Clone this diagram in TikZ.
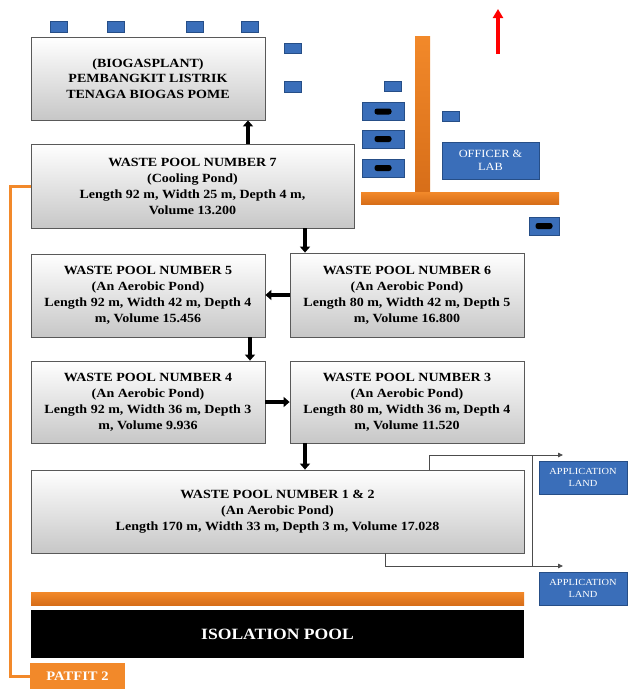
\documentclass[tikz,border=0pt]{standalone}
\usepackage{fontspec}
\setmainfont{Liberation Serif}[FakeStretch=1.12]
\usetikzlibrary{shadows,arrows.meta}
\definecolor{myblue}{RGB}{58,110,185}
\definecolor{myblued}{RGB}{38,78,135}
\definecolor{myorange}{RGB}{242,137,42}
\definecolor{myoranged}{RGB}{215,110,25}
\begin{document}
\begin{tikzpicture}[x=1pt,y=-1pt,
  pool/.style={draw=black!65, line width=0.8pt, top color=white, bottom color=black!22,
    align=center, font=\bfseries\fontsize{12.5}{16}\selectfont, inner sep=0pt,
    drop shadow={shadow xshift=1.2pt, shadow yshift=-1.2pt, opacity=0.35}},
  bluebox/.style={fill=myblue, draw=myblued, line width=0.6pt, inner sep=0pt},
  blackin/.style={fill=black, rounded corners=2.5pt, inner sep=0pt, minimum width=17pt, minimum height=6pt},
  appbox/.style={bluebox, line width=1pt, minimum width=88pt, minimum height=33pt, align=center,
    text=white, font=\fontsize{9.3}{11.5}\selectfont},
  orangebar/.style={top color=myorange, bottom color=myoranged, draw=none, inner sep=0pt},
  flow/.style={line width=3.5pt, -{Triangle[length=6pt,width=10pt]}},
  thinflow/.style={draw=black!70, line width=0.8pt, -{Triangle[length=5pt,width=4.5pt]}},
  orangeline/.style={draw=myorange, line width=3pt}
]
\useasboundingbox (0,0) rectangle (628,689);

% small blue blocks
\foreach \n/\cx/\cy in {a/59/27, b/116/27, c/194.5/27, d/249.5/27, e/293/48.5, f/293/87, g/393/86.5, h/450.5/116.5}
  \node[bluebox, minimum width=17pt, minimum height=10.5pt] (sb\n) at (\cx,\cy) {};
% blue blocks with black inner
\foreach \n/\cx/\cy/\w in {a/383/111.5/42, b/383/139/42, c/383/168/42, d/544/226/30}{
  \node[bluebox, minimum width=\w pt, minimum height=18pt] (bb\n) at (\cx,\cy) {};
  \node[blackin] at (bb\n.center) {};
}

% orange road bars
\node[orangebar, minimum width=15pt, minimum height=156pt] (vbar) at (422.5,114) {};
\node[orangebar, minimum width=198pt, minimum height=12pt] (hbar) at (460,198) {};

% officer & lab
\node[bluebox, minimum width=97pt, minimum height=37pt, text=white, align=center,
  font=\fontsize{11}{13.5}\selectfont] (off) at (490.5,160.5) {OFFICER \&\\LAB};

% red north arrow
\coordinate (ra) at (498,54);
\coordinate (rb) at (498,9);
\draw[red, line width=4.5pt, -{Triangle[length=9pt,width=10pt]}] (ra) -- (rb);

% pools
\node[pool, minimum width=234pt, minimum height=83pt, font=\bfseries\fontsize{12.5}{15.5}\selectfont] (bio) at (148,78.5)
  {(BIOGASPLANT)\\PEMBANGKIT LISTRIK\\TENAGA BIOGAS POME};
\node[pool, minimum width=323pt, minimum height=84pt] (p7) at (192.5,186)
  {WASTE POOL NUMBER 7\\(Cooling Pond)\\Length 92 m, Width 25 m, Depth 4 m,\\Volume 13.200};
\node[pool, minimum width=234pt, minimum height=83pt] (p5) at (148,295.5)
  {WASTE POOL NUMBER 5\\(An Aerobic Pond)\\Length 92 m, Width 42 m, Depth 4\\m, Volume 15.456};
\node[pool, minimum width=234pt, minimum height=84pt] (p6) at (407,295)
  {WASTE POOL NUMBER 6\\(An Aerobic Pond)\\Length 80 m, Width 42 m, Depth 5\\m, Volume 16.800};
\node[pool, minimum width=234pt, minimum height=82pt] (p4) at (148,402)
  {WASTE POOL NUMBER 4\\(An Aerobic Pond)\\Length 92 m, Width 36 m, Depth 3\\m, Volume 9.936};
\node[pool, minimum width=234pt, minimum height=82pt] (p3) at (407,402)
  {WASTE POOL NUMBER 3\\(An Aerobic Pond)\\Length 80 m, Width 36 m, Depth 4\\m, Volume 11.520};
\node[pool, minimum width=493pt, minimum height=83pt] (p12) at (277.5,511.5)
  {WASTE POOL NUMBER 1 \& 2\\(An Aerobic Pond)\\Length 170 m, Width 33 m, Depth 3 m, Volume 17.028};

% flow arrows
\draw[flow] (p7.north -| 248,0) -- (bio.south -| 248,0);
\draw[flow] (p7.south -| 305,0) -- (p6.north -| 305,0);
\draw[flow] (p6.west |- 0,295) -- (p5.east |- 0,295);
\draw[flow] (p5.south -| 250,0) -- (p4.north -| 250,0);
\draw[flow] (p4.east |- 0,402) -- (p3.west |- 0,402);
\draw[flow] (p3.south -| 305,0) -- (p12.north -| 305,0);

% application land
\node[appbox] (app1) at (583,477.5) {APPLICATION\\LAND};
\node[appbox] (app2) at (583,588.5) {APPLICATION\\LAND};
\coordinate (t1) at (429,455);
\coordinate (t2) at (563,455);
\coordinate (b1) at (385,566);
\coordinate (b2) at (563,566);
\coordinate (j1) at (532,455);
\coordinate (j2) at (532,566);
\draw[thinflow] (p12.north -| t1) -- (t1) -- (t2);
\draw[thinflow] (p12.south -| b1) -- (b1) -- (b2);
\draw[draw=black!70, line width=0.8pt] (j1) -- (j2);

% orange bar and isolation pool
\node[orangebar, minimum width=493pt, minimum height=13pt] (obar) at (277.5,598.5) {};
\node[fill=black, minimum width=493pt, minimum height=48pt, inner sep=0pt, text=white,
  font=\bfseries\fontsize{15.7}{18}\selectfont] (iso) at (277.5,634) {ISOLATION POOL};

% patfit
\node[fill=myorange, minimum width=95pt, minimum height=26pt, inner sep=0pt, text=white,
  font=\bfseries\fontsize{13}{15}\selectfont] (pat) at (77.5,676) {PATFIT 2};
\draw[orangeline] (p7.west) -- ++(-20,0) |- (pat.west);
\end{tikzpicture}
\end{document}
